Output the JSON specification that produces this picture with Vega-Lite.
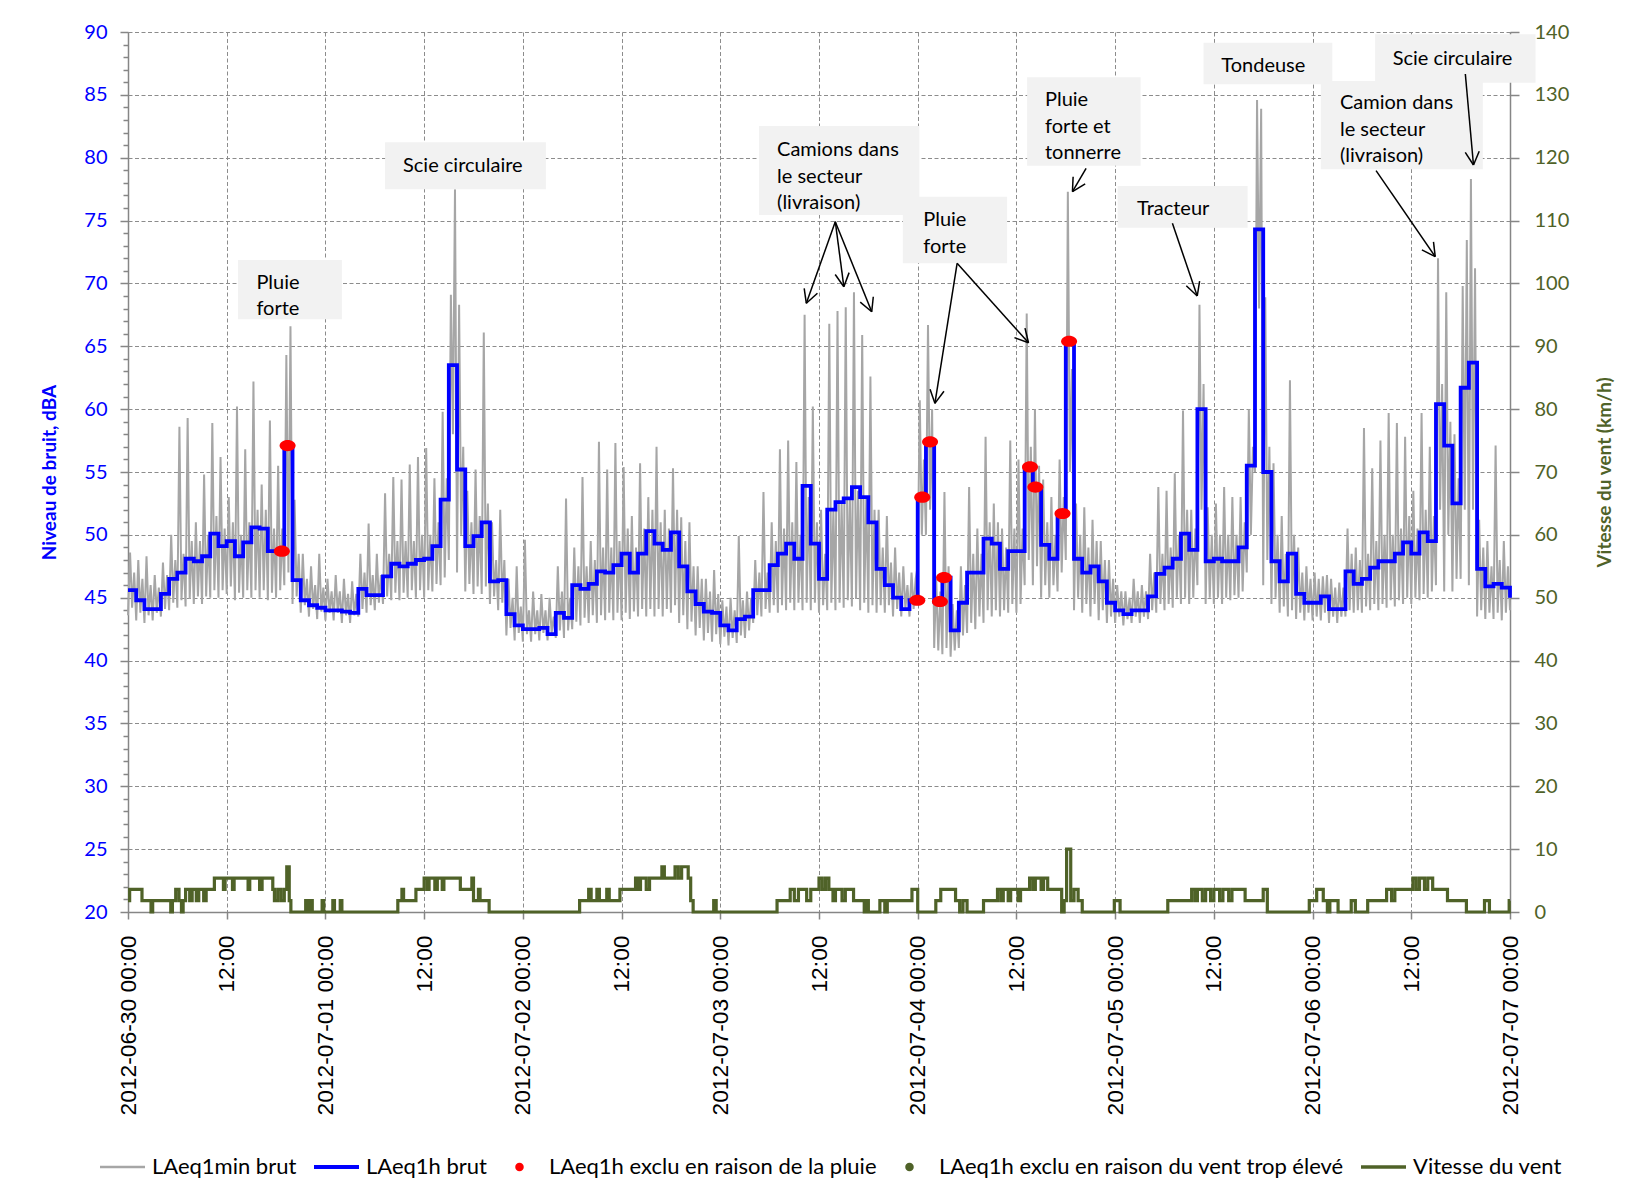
{
"$schema": "https://vega.github.io/schema/vega-lite/v6.json",
"width": 1382,
"height": 880,
"autosize": {"type": "none"},
"padding": {"left": 128, "top": 32, "right": 125, "bottom": 284},
"background": "white",
"config": {"font": "Lato", "view": {"stroke": null}},
"datasets": {
"minute": [
{"h":0,"v":43.6},{"h":0.25,"v":48.6},{"h":0.5,"v":44.2},{"h":0.75,"v":47.0},
{"h":1,"v":43.2},{"h":1.25,"v":48.0},{"h":1.5,"v":43.8},{"h":1.75,"v":46.5},
{"h":2,"v":43.0},{"h":2.25,"v":48.3},{"h":2.5,"v":43.6},{"h":2.75,"v":46.0},
{"h":3,"v":43.2},{"h":3.25,"v":46.8},{"h":3.5,"v":43.8},{"h":3.75,"v":45.8},
{"h":4,"v":43.5},{"h":4.25,"v":47.8},{"h":4.5,"v":44.1},{"h":4.75,"v":46.8},
{"h":5,"v":44.0},{"h":5.25,"v":50.0},{"h":5.5,"v":44.6},{"h":5.75,"v":48.0},
{"h":6,"v":44.2},{"h":6.25,"v":58.6},{"h":6.5,"v":44.8},{"h":6.75,"v":48.5},
{"h":7,"v":44.3},{"h":7.25,"v":59.3},{"h":7.5,"v":44.9},{"h":7.75,"v":49.5},
{"h":8,"v":44.5},{"h":8.25,"v":51.0},{"h":8.5,"v":45.1},{"h":8.75,"v":49.5},
{"h":9,"v":44.5},{"h":9.25,"v":54.8},{"h":9.5,"v":45.1},{"h":9.75,"v":50.0},
{"h":10,"v":45.0},{"h":10.25,"v":58.9},{"h":10.5,"v":45.6},{"h":10.75,"v":51.5},
{"h":11,"v":45.0},{"h":11.25,"v":56.2},{"h":11.5,"v":45.6},{"h":11.75,"v":50.5},
{"h":12,"v":45.3},{"h":12.25,"v":53.0},{"h":12.5,"v":45.9},{"h":12.75,"v":51.0},
{"h":13,"v":44.8},{"h":13.25,"v":60.2},{"h":13.5,"v":45.4},{"h":13.75,"v":50.0},
{"h":14,"v":45.0},{"h":14.25,"v":56.8},{"h":14.5,"v":45.6},{"h":14.75,"v":51.0},
{"h":15,"v":45.0},{"h":15.25,"v":62.2},{"h":15.5,"v":45.6},{"h":15.75,"v":52.0},
{"h":16,"v":45.0},{"h":16.25,"v":54.0},{"h":16.5,"v":45.6},{"h":16.75,"v":52.0},
{"h":17,"v":44.8},{"h":17.25,"v":59.1},{"h":17.5,"v":45.4},{"h":17.75,"v":50.5},
{"h":18,"v":45.0},{"h":18.25,"v":55.5},{"h":18.5,"v":45.6},{"h":18.75,"v":50.5},
{"h":19,"v":46.0},{"h":19.25,"v":64.3},{"h":19.5,"v":47.0},{"h":19.75,"v":66.6},
{"h":20,"v":44.5},{"h":20.25,"v":52.8},{"h":20.5,"v":45.1},{"h":20.75,"v":48.5},
{"h":21,"v":43.8},{"h":21.25,"v":48.5},{"h":21.5,"v":44.4},{"h":21.75,"v":46.5},
{"h":22,"v":43.5},{"h":22.25,"v":47.5},{"h":22.5,"v":44.1},{"h":22.75,"v":46.0},
{"h":23,"v":43.3},{"h":23.25,"v":48.5},{"h":23.5,"v":43.9},{"h":23.75,"v":45.8},
{"h":24,"v":43.2},{"h":24.25,"v":46.5},{"h":24.5,"v":43.8},{"h":24.75,"v":45.5},
{"h":25,"v":43.2},{"h":25.25,"v":46.8},{"h":25.5,"v":43.8},{"h":25.75,"v":45.5},
{"h":26,"v":43.0},{"h":26.25,"v":46.5},{"h":26.5,"v":43.6},{"h":26.75,"v":45.3},
{"h":27,"v":43.0},{"h":27.25,"v":46.3},{"h":27.5,"v":43.6},{"h":27.75,"v":45.3},
{"h":28,"v":43.5},{"h":28.25,"v":48.5},{"h":28.5,"v":44.1},{"h":28.75,"v":47.0},
{"h":29,"v":43.8},{"h":29.25,"v":50.9},{"h":29.5,"v":44.4},{"h":29.75,"v":46.8},
{"h":30,"v":44.0},{"h":30.25,"v":48.5},{"h":30.5,"v":44.6},{"h":30.75,"v":46.8},
{"h":31,"v":44.5},{"h":31.25,"v":53.3},{"h":31.5,"v":45.1},{"h":31.75,"v":48.5},
{"h":32,"v":44.8},{"h":32.25,"v":54.6},{"h":32.5,"v":45.4},{"h":32.75,"v":49.5},
{"h":33,"v":44.8},{"h":33.25,"v":54.4},{"h":33.5,"v":45.4},{"h":33.75,"v":49.5},
{"h":34,"v":45.0},{"h":34.25,"v":55.6},{"h":34.5,"v":45.6},{"h":34.75,"v":49.5},
{"h":35,"v":45.0},{"h":35.25,"v":56.2},{"h":35.5,"v":45.6},{"h":35.75,"v":50.0},
{"h":36,"v":45.0},{"h":36.25,"v":56.9},{"h":36.5,"v":45.6},{"h":36.75,"v":50.0},
{"h":37,"v":45.5},{"h":37.25,"v":54.5},{"h":37.5,"v":46.1},{"h":37.75,"v":51.0},
{"h":38,"v":46.0},{"h":38.25,"v":59.8},{"h":38.5,"v":46.6},{"h":38.75,"v":54.5},
{"h":39,"v":48.0},{"h":39.25,"v":69.1},{"h":39.5,"v":58.0},{"h":39.75,"v":77.5},
{"h":40,"v":47.0},{"h":40.25,"v":68.3},{"h":40.5,"v":50.0},{"h":40.75,"v":57.0},
{"h":41,"v":45.5},{"h":41.25,"v":53.5},{"h":41.5,"v":46.1},{"h":41.75,"v":51.0},
{"h":42,"v":45.3},{"h":42.25,"v":55.2},{"h":42.5,"v":45.9},{"h":42.75,"v":51.5},
{"h":43,"v":45.3},{"h":43.25,"v":66.1},{"h":43.5,"v":45.9},{"h":43.75,"v":52.5},
{"h":44,"v":44.5},{"h":44.25,"v":51.0},{"h":44.5,"v":45.1},{"h":44.75,"v":48.0},
{"h":45,"v":44.0},{"h":45.25,"v":52.0},{"h":45.5,"v":44.6},{"h":45.75,"v":48.0},
{"h":46,"v":42.0},{"h":46.25,"v":46.5},{"h":46.5,"v":42.6},{"h":46.75,"v":45.0},
{"h":47,"v":41.6},{"h":47.25,"v":47.5},{"h":47.5,"v":42.2},{"h":47.75,"v":44.3},
{"h":48,"v":41.5},{"h":48.25,"v":49.6},{"h":48.5,"v":42.1},{"h":48.75,"v":44.0},
{"h":49,"v":41.5},{"h":49.25,"v":45.5},{"h":49.5,"v":42.1},{"h":49.75,"v":44.0},
{"h":50,"v":41.6},{"h":50.25,"v":45.3},{"h":50.5,"v":42.2},{"h":50.75,"v":44.0},
{"h":51,"v":41.6},{"h":51.25,"v":45.0},{"h":51.5,"v":42.2},{"h":51.75,"v":43.5},
{"h":52,"v":41.8},{"h":52.25,"v":47.5},{"h":52.5,"v":42.4},{"h":52.75,"v":45.5},
{"h":53,"v":41.8},{"h":53.25,"v":52.9},{"h":53.5,"v":42.4},{"h":53.75,"v":45.0},
{"h":54,"v":42.5},{"h":54.25,"v":49.0},{"h":54.5,"v":43.1},{"h":54.75,"v":47.5},
{"h":55,"v":42.8},{"h":55.25,"v":54.6},{"h":55.5,"v":43.4},{"h":55.75,"v":47.5},
{"h":56,"v":43.0},{"h":56.25,"v":49.5},{"h":56.5,"v":43.6},{"h":56.75,"v":48.0},
{"h":57,"v":43.0},{"h":57.25,"v":57.4},{"h":57.5,"v":43.6},{"h":57.75,"v":49.0},
{"h":58,"v":43.2},{"h":58.25,"v":55.2},{"h":58.5,"v":43.8},{"h":58.75,"v":49.0},
{"h":59,"v":43.2},{"h":59.25,"v":57.3},{"h":59.5,"v":43.8},{"h":59.75,"v":49.5},
{"h":60,"v":43.2},{"h":60.25,"v":55.4},{"h":60.5,"v":43.8},{"h":60.75,"v":50.5},
{"h":61,"v":43.3},{"h":61.25,"v":51.5},{"h":61.5,"v":43.9},{"h":61.75,"v":49.0},
{"h":62,"v":43.5},{"h":62.25,"v":55.7},{"h":62.5,"v":44.1},{"h":62.75,"v":50.5},
{"h":63,"v":43.5},{"h":63.25,"v":53.0},{"h":63.5,"v":44.1},{"h":63.75,"v":52.0},
{"h":64,"v":43.5},{"h":64.25,"v":57.0},{"h":64.5,"v":44.1},{"h":64.75,"v":51.0},
{"h":65,"v":43.5},{"h":65.25,"v":52.0},{"h":65.5,"v":44.1},{"h":65.75,"v":50.5},
{"h":66,"v":43.8},{"h":66.25,"v":55.3},{"h":66.5,"v":44.4},{"h":66.75,"v":52.0},
{"h":67,"v":43.0},{"h":67.25,"v":51.4},{"h":67.5,"v":43.6},{"h":67.75,"v":49.5},
{"h":68,"v":42.5},{"h":68.25,"v":51.0},{"h":68.5,"v":43.1},{"h":68.75,"v":47.5},
{"h":69,"v":42.0},{"h":69.25,"v":47.5},{"h":69.5,"v":42.6},{"h":69.75,"v":46.5},
{"h":70,"v":41.6},{"h":70.25,"v":46.5},{"h":70.5,"v":42.2},{"h":70.75,"v":45.5},
{"h":71,"v":41.5},{"h":71.25,"v":47.2},{"h":71.5,"v":42.1},{"h":71.75,"v":45.3},
{"h":72,"v":41.3},{"h":72.25,"v":44.8},{"h":72.5,"v":41.9},{"h":72.75,"v":44.3},
{"h":73,"v":41.2},{"h":73.25,"v":45.0},{"h":73.5,"v":41.8},{"h":73.75,"v":44.0},
{"h":74,"v":41.4},{"h":74.25,"v":49.9},{"h":74.5,"v":42.0},{"h":74.75,"v":44.8},
{"h":75,"v":41.8},{"h":75.25,"v":45.5},{"h":75.5,"v":42.4},{"h":75.75,"v":45.0},
{"h":76,"v":43.0},{"h":76.25,"v":48.0},{"h":76.5,"v":43.6},{"h":76.75,"v":47.0},
{"h":77,"v":43.5},{"h":77.25,"v":53.4},{"h":77.5,"v":44.1},{"h":77.75,"v":47.0},
{"h":78,"v":43.8},{"h":78.25,"v":51.0},{"h":78.5,"v":44.4},{"h":78.75,"v":49.5},
{"h":79,"v":43.8},{"h":79.25,"v":56.8},{"h":79.5,"v":44.4},{"h":79.75,"v":50.5},
{"h":80,"v":44.0},{"h":80.25,"v":57.5},{"h":80.5,"v":44.6},{"h":80.75,"v":51.0},
{"h":81,"v":44.0},{"h":81.25,"v":55.8},{"h":81.5,"v":44.6},{"h":81.75,"v":50.0},
{"h":82,"v":44.0},{"h":82.25,"v":67.5},{"h":82.5,"v":44.6},{"h":82.75,"v":53.0},
{"h":83,"v":44.0},{"h":83.25,"v":60.2},{"h":83.5,"v":44.6},{"h":83.75,"v":51.0},
{"h":84,"v":43.8},{"h":84.25,"v":52.0},{"h":84.5,"v":44.4},{"h":84.75,"v":48.5},
{"h":85,"v":44.0},{"h":85.25,"v":66.8},{"h":85.5,"v":44.6},{"h":85.75,"v":52.0},
{"h":86,"v":44.0},{"h":86.25,"v":67.8},{"h":86.5,"v":44.6},{"h":86.75,"v":52.5},
{"h":87,"v":44.2},{"h":87.25,"v":68.1},{"h":87.5,"v":44.8},{"h":87.75,"v":53.0},
{"h":88,"v":44.3},{"h":88.25,"v":69.3},{"h":88.5,"v":44.9},{"h":88.75,"v":53.5},
{"h":89,"v":44.0},{"h":89.25,"v":65.9},{"h":89.5,"v":44.6},{"h":89.75,"v":53.0},
{"h":90,"v":43.8},{"h":90.25,"v":62.6},{"h":90.5,"v":44.4},{"h":90.75,"v":52.0},
{"h":91,"v":43.8},{"h":91.25,"v":52.0},{"h":91.5,"v":44.4},{"h":91.75,"v":49.0},
{"h":92,"v":43.8},{"h":92.25,"v":51.5},{"h":92.5,"v":44.4},{"h":92.75,"v":47.8},
{"h":93,"v":43.5},{"h":93.25,"v":49.0},{"h":93.5,"v":44.1},{"h":93.75,"v":47.0},
{"h":94,"v":43.5},{"h":94.25,"v":47.5},{"h":94.5,"v":44.1},{"h":94.75,"v":46.0},
{"h":95,"v":43.5},{"h":95.25,"v":47.0},{"h":95.5,"v":44.1},{"h":95.75,"v":46.5},
{"h":96,"v":47.5},{"h":96.25,"v":60.7},{"h":96.5,"v":50.0},{"h":96.75,"v":56.0},
{"h":97,"v":50.0},{"h":97.25,"v":66.7},{"h":97.5,"v":52.0},{"h":97.75,"v":60.0},
{"h":98,"v":41.0},{"h":98.25,"v":46.5},{"h":98.5,"v":40.8},{"h":98.75,"v":45.5},
{"h":99,"v":40.5},{"h":99.25,"v":53.4},{"h":99.5,"v":41.0},{"h":99.75,"v":47.5},
{"h":100,"v":40.3},{"h":100.25,"v":44.5},{"h":100.5,"v":40.8},{"h":100.75,"v":44.0},
{"h":101,"v":41.0},{"h":101.25,"v":47.5},{"h":101.5,"v":42.0},{"h":101.75,"v":46.0},
{"h":102,"v":42.2},{"h":102.25,"v":53.8},{"h":102.5,"v":43.0},{"h":102.75,"v":48.5},
{"h":103,"v":42.5},{"h":103.25,"v":50.5},{"h":103.5,"v":43.5},{"h":103.75,"v":48.5},
{"h":104,"v":43.0},{"h":104.25,"v":57.8},{"h":104.5,"v":44.0},{"h":104.75,"v":51.0},
{"h":105,"v":43.5},{"h":105.25,"v":52.5},{"h":105.5,"v":44.0},{"h":105.75,"v":51.0},
{"h":106,"v":43.5},{"h":106.25,"v":50.5},{"h":106.5,"v":44.0},{"h":106.75,"v":49.0},
{"h":107,"v":43.8},{"h":107.25,"v":57.5},{"h":107.5,"v":44.5},{"h":107.75,"v":50.5},
{"h":108,"v":43.8},{"h":108.25,"v":56.0},{"h":108.5,"v":44.5},{"h":108.75,"v":50.5},
{"h":109,"v":46.0},{"h":109.25,"v":67.6},{"h":109.5,"v":48.0},{"h":109.75,"v":57.0},
{"h":110,"v":46.0},{"h":110.25,"v":60.0},{"h":110.5,"v":47.5},{"h":110.75,"v":55.5},
{"h":111,"v":45.0},{"h":111.25,"v":54.4},{"h":111.5,"v":46.0},{"h":111.75,"v":51.0},
{"h":112,"v":45.0},{"h":112.25,"v":53.0},{"h":112.5,"v":46.0},{"h":112.75,"v":50.0},
{"h":113,"v":45.5},{"h":113.25,"v":56.0},{"h":113.5,"v":47.0},{"h":113.75,"v":53.0},
{"h":114,"v":48.0},{"h":114.25,"v":77.3},{"h":114.5,"v":55.0},{"h":114.75,"v":63.2},
{"h":115,"v":44.0},{"h":115.25,"v":52.5},{"h":115.5,"v":45.0},{"h":115.75,"v":50.0},
{"h":116,"v":43.8},{"h":116.25,"v":52.2},{"h":116.5,"v":44.5},{"h":116.75,"v":49.0},
{"h":117,"v":43.5},{"h":117.25,"v":51.2},{"h":117.5,"v":44.5},{"h":117.75,"v":49.5},
{"h":118,"v":43.2},{"h":118.25,"v":49.5},{"h":118.5,"v":44.0},{"h":118.75,"v":48.0},
{"h":119,"v":43.0},{"h":119.25,"v":48.0},{"h":119.5,"v":43.5},{"h":119.75,"v":46.5},
{"h":120,"v":43.0},{"h":120.25,"v":46.0},{"h":120.5,"v":43.5},{"h":120.75,"v":45.5},
{"h":121,"v":42.8},{"h":121.25,"v":45.5},{"h":121.5,"v":43.3},{"h":121.75,"v":45.0},
{"h":122,"v":43.0},{"h":122.25,"v":46.5},{"h":122.5,"v":43.5},{"h":122.75,"v":45.5},
{"h":123,"v":43.0},{"h":123.25,"v":46.0},{"h":123.5,"v":43.5},{"h":123.75,"v":45.5},
{"h":124,"v":43.3},{"h":124.25,"v":48.5},{"h":124.5,"v":44.0},{"h":124.75,"v":47.0},
{"h":125,"v":43.8},{"h":125.25,"v":53.8},{"h":125.5,"v":44.5},{"h":125.75,"v":48.5},
{"h":126,"v":44.0},{"h":126.25,"v":53.5},{"h":126.5,"v":44.5},{"h":126.75,"v":49.0},
{"h":127,"v":44.2},{"h":127.25,"v":54.9},{"h":127.5,"v":45.0},{"h":127.75,"v":50.0},
{"h":128,"v":44.5},{"h":128.25,"v":59.9},{"h":128.5,"v":45.0},{"h":128.75,"v":52.0},
{"h":129,"v":44.5},{"h":129.25,"v":52.0},{"h":129.5,"v":45.0},{"h":129.75,"v":50.5},
{"h":130,"v":46.0},{"h":130.25,"v":68.3},{"h":130.5,"v":52.0},{"h":130.75,"v":62.0},
{"h":131,"v":44.5},{"h":131.25,"v":52.2},{"h":131.5,"v":45.0},{"h":131.75,"v":50.0},
{"h":132,"v":44.5},{"h":132.25,"v":52.5},{"h":132.5,"v":45.0},{"h":132.75,"v":50.0},
{"h":133,"v":44.5},{"h":133.25,"v":53.8},{"h":133.5,"v":45.0},{"h":133.75,"v":50.0},
{"h":134,"v":44.8},{"h":134.25,"v":53.0},{"h":134.5,"v":45.2},{"h":134.75,"v":50.0},
{"h":135,"v":45.0},{"h":135.25,"v":53.0},{"h":135.5,"v":45.5},{"h":135.75,"v":51.0},
{"h":136,"v":47.0},{"h":136.25,"v":60.0},{"h":136.5,"v":50.0},{"h":136.75,"v":57.0},
{"h":137,"v":55.0},{"h":137.25,"v":84.6},{"h":137.5,"v":68.0},{"h":137.75,"v":83.9},
{"h":138,"v":46.0},{"h":138.25,"v":68.9},{"h":138.5,"v":48.0},{"h":138.75,"v":57.0},
{"h":139,"v":44.5},{"h":139.25,"v":55.7},{"h":139.5,"v":45.0},{"h":139.75,"v":50.0},
{"h":140,"v":43.8},{"h":140.25,"v":51.5},{"h":140.5,"v":44.3},{"h":140.75,"v":48.5},
{"h":141,"v":43.5},{"h":141.25,"v":62.3},{"h":141.5,"v":44.0},{"h":141.75,"v":50.0},
{"h":142,"v":43.3},{"h":142.25,"v":49.0},{"h":142.5,"v":43.8},{"h":142.75,"v":47.0},
{"h":143,"v":43.2},{"h":143.25,"v":47.5},{"h":143.5,"v":43.8},{"h":143.75,"v":46.5},
{"h":144,"v":43.2},{"h":144.25,"v":47.0},{"h":144.5,"v":43.5},{"h":144.75,"v":46.5},
{"h":145,"v":43.2},{"h":145.25,"v":46.7},{"h":145.5,"v":43.8},{"h":145.75,"v":46.8},
{"h":146,"v":43.0},{"h":146.25,"v":46.5},{"h":146.5,"v":43.5},{"h":146.75,"v":45.8},
{"h":147,"v":43.0},{"h":147.25,"v":46.2},{"h":147.5,"v":43.5},{"h":147.75,"v":45.8},
{"h":148,"v":43.5},{"h":148.25,"v":50.5},{"h":148.5,"v":44.0},{"h":148.75,"v":48.5},
{"h":149,"v":43.8},{"h":149.25,"v":49.0},{"h":149.5,"v":44.0},{"h":149.75,"v":48.0},
{"h":150,"v":43.8},{"h":150.25,"v":58.5},{"h":150.5,"v":44.3},{"h":150.75,"v":48.5},
{"h":151,"v":44.0},{"h":151.25,"v":55.3},{"h":151.5,"v":44.5},{"h":151.75,"v":49.5},
{"h":152,"v":44.0},{"h":152.25,"v":57.5},{"h":152.5,"v":44.5},{"h":152.75,"v":50.0},
{"h":153,"v":44.2},{"h":153.25,"v":59.7},{"h":153.5,"v":44.8},{"h":153.75,"v":50.0},
{"h":154,"v":44.3},{"h":154.25,"v":58.9},{"h":154.5,"v":44.8},{"h":154.75,"v":50.5},
{"h":155,"v":44.5},{"h":155.25,"v":57.8},{"h":155.5,"v":45.0},{"h":155.75,"v":51.5},
{"h":156,"v":44.5},{"h":156.25,"v":53.5},{"h":156.5,"v":45.0},{"h":156.75,"v":50.5},
{"h":157,"v":44.8},{"h":157.25,"v":59.7},{"h":157.5,"v":45.3},{"h":157.75,"v":52.0},
{"h":158,"v":45.0},{"h":158.25,"v":57.0},{"h":158.5,"v":45.5},{"h":158.75,"v":51.5},
{"h":159,"v":46.0},{"h":159.25,"v":72.0},{"h":159.5,"v":52.0},{"h":159.75,"v":62.0},
{"h":160,"v":45.5},{"h":160.25,"v":69.3},{"h":160.5,"v":50.0},{"h":160.75,"v":59.0},
{"h":161,"v":45.5},{"h":161.25,"v":58.0},{"h":161.5,"v":46.5},{"h":161.75,"v":54.5},
{"h":162,"v":46.5},{"h":162.25,"v":69.8},{"h":162.5,"v":52.0},{"h":162.75,"v":73.45},
{"h":163,"v":46.0},{"h":163.25,"v":78.3},{"h":163.5,"v":52.0},{"h":163.75,"v":71.2},
{"h":164,"v":43.5},{"h":164.25,"v":51.2},{"h":164.5,"v":44.0},{"h":164.75,"v":49.0},
{"h":165,"v":43.3},{"h":165.25,"v":49.5},{"h":165.5,"v":43.8},{"h":165.75,"v":47.5},
{"h":166,"v":43.3},{"h":166.25,"v":57.1},{"h":166.5,"v":43.8},{"h":166.75,"v":48.0},
{"h":167,"v":43.2},{"h":167.25,"v":49.5},{"h":167.5,"v":43.8},{"h":167.75,"v":47.5},
{"h":168,"v":44.0}
],
"heure": [
{"h":0,"v":45.6},{"h":1,"v":44.8},{"h":2,"v":44.1},{"h":3,"v":44.1},{"h":4,"v":45.3},{"h":5,"v":46.5},{"h":6,"v":47.0},{"h":7,"v":48.1},{"h":8,"v":47.9},{"h":9,"v":48.3},{"h":10,"v":50.1},{"h":11,"v":49.1},{"h":12,"v":49.5},{"h":13,"v":48.3},{"h":14,"v":49.4},{"h":15,"v":50.6},{"h":16,"v":50.5},{"h":17,"v":48.7},{"h":18,"v":48.7},{"h":19,"v":57.1},{"h":20,"v":46.4},{"h":21,"v":44.8},{"h":22,"v":44.4},{"h":23,"v":44.2},
{"h":24,"v":44.0},{"h":25,"v":44.0},{"h":26,"v":43.9},{"h":27,"v":43.8},{"h":28,"v":45.7},{"h":29,"v":45.2},{"h":30,"v":45.2},{"h":31,"v":46.7},{"h":32,"v":47.7},{"h":33,"v":47.5},{"h":34,"v":47.7},{"h":35,"v":48.0},{"h":36,"v":48.1},{"h":37,"v":49.1},{"h":38,"v":52.8},{"h":39,"v":63.5},{"h":40,"v":55.2},{"h":41,"v":49.1},{"h":42,"v":49.9},{"h":43,"v":51.0},{"h":44,"v":46.3},{"h":45,"v":46.4},{"h":46,"v":43.7},{"h":47,"v":42.8},
{"h":48,"v":42.5},{"h":49,"v":42.5},{"h":50,"v":42.6},{"h":51,"v":42.1},{"h":52,"v":43.8},{"h":53,"v":43.4},{"h":54,"v":46.0},{"h":55,"v":45.7},{"h":56,"v":46.1},{"h":57,"v":47.1},{"h":58,"v":47.0},{"h":59,"v":47.6},{"h":60,"v":48.5},{"h":61,"v":47.0},{"h":62,"v":48.5},{"h":63,"v":50.3},{"h":64,"v":49.3},{"h":65,"v":48.8},{"h":66,"v":50.2},{"h":67,"v":47.5},{"h":68,"v":45.5},{"h":69,"v":44.5},{"h":70,"v":43.9},{"h":71,"v":43.8},
{"h":72,"v":42.8},{"h":73,"v":42.4},{"h":74,"v":43.3},{"h":75,"v":43.5},{"h":76,"v":45.6},{"h":77,"v":45.6},{"h":78,"v":47.6},{"h":79,"v":48.5},{"h":80,"v":49.3},{"h":81,"v":48.1},{"h":82,"v":53.9},{"h":83,"v":49.3},{"h":84,"v":46.5},{"h":85,"v":52.0},{"h":86,"v":52.6},{"h":87,"v":52.9},{"h":88,"v":53.8},{"h":89,"v":53.0},{"h":90,"v":51.0},{"h":91,"v":47.3},{"h":92,"v":46.0},{"h":93,"v":45.0},{"h":94,"v":44.1},{"h":95,"v":44.8},
{"h":96,"v":53.0},{"h":97,"v":57.4},{"h":98,"v":44.7},{"h":99,"v":46.6},{"h":100,"v":42.4},{"h":101,"v":44.6},{"h":102,"v":47.0},{"h":103,"v":47.0},{"h":104,"v":49.7},{"h":105,"v":49.3},{"h":106,"v":47.3},{"h":107,"v":48.7},{"h":108,"v":48.7},{"h":109,"v":55.4},{"h":110,"v":53.8},{"h":111,"v":49.2},{"h":112,"v":48.1},{"h":113,"v":51.7},{"h":114,"v":65.4},{"h":115,"v":48.1},{"h":116,"v":47.0},{"h":117,"v":47.5},{"h":118,"v":46.3},{"h":119,"v":44.6},
{"h":120,"v":44.0},{"h":121,"v":43.7},{"h":122,"v":44.0},{"h":123,"v":44.0},{"h":124,"v":45.1},{"h":125,"v":46.9},{"h":126,"v":47.4},{"h":127,"v":48.1},{"h":128,"v":50.1},{"h":129,"v":48.8},{"h":130,"v":60.0},{"h":131,"v":47.9},{"h":132,"v":48.1},{"h":133,"v":47.9},{"h":134,"v":47.9},{"h":135,"v":49.0},{"h":136,"v":55.5},{"h":137,"v":74.3},{"h":138,"v":55.0},{"h":139,"v":47.9},{"h":140,"v":46.3},{"h":141,"v":48.5},{"h":142,"v":45.3},{"h":143,"v":44.6},
{"h":144,"v":44.6},{"h":145,"v":45.1},{"h":146,"v":44.1},{"h":147,"v":44.1},{"h":148,"v":47.1},{"h":149,"v":46.1},{"h":150,"v":46.5},{"h":151,"v":47.4},{"h":152,"v":47.9},{"h":153,"v":47.9},{"h":154,"v":48.5},{"h":155,"v":49.4},{"h":156,"v":48.5},{"h":157,"v":50.2},{"h":158,"v":49.5},{"h":159,"v":60.4},{"h":160,"v":57.1},{"h":161,"v":52.5},{"h":162,"v":61.7},{"h":163,"v":63.7},{"h":164,"v":47.3},{"h":165,"v":45.9},{"h":166,"v":46.1},{"h":167,"v":45.8},{"h":168,"v":45.0}
],
"pluie": [
{"h":18.7,"v":48.7},{"h":19.4,"v":57.1},{"h":95.95,"v":44.8},{"h":96.55,"v":53.0},{"h":97.5,"v":57.4},{"h":98.7,"v":44.7},{"h":99.2,"v":46.6},{"h":109.65,"v":55.4},{"h":110.3,"v":53.8},{"h":113.6,"v":51.7},{"h":114.4,"v":65.4}
],
"vent": [
{"h":0,"w":1.8},{"h":0.2,"w":3.6},{"h":1.7,"w":1.8},{"h":2.8,"w":0},{"h":3.0,"w":1.8},{"h":5.2,"w":0},{"h":5.4,"w":1.8},{"h":5.8,"w":3.6},{"h":6.2,"w":1.8},{"h":6.5,"w":0},{"h":6.7,"w":1.8},{"h":7.0,"w":3.6},{"h":7.5,"w":1.8},{"h":7.8,"w":3.6},{"h":8.3,"w":1.8},{"h":8.6,"w":3.6},{"h":9.2,"w":1.8},{"h":9.5,"w":3.6},{"h":10.5,"w":5.4},{"h":11.6,"w":3.6},{"h":11.8,"w":5.4},{"h":12.7,"w":3.6},{"h":12.9,"w":5.4},{"h":14.6,"w":3.6},{"h":14.8,"w":5.4},{"h":16.0,"w":3.6},{"h":16.3,"w":5.4},{"h":17.6,"w":3.6},{"h":17.8,"w":1.8},{"h":18.2,"w":3.6},{"h":18.6,"w":1.8},{"h":19.0,"w":3.6},{"h":19.3,"w":7.2},{"h":19.6,"w":1.8},{"h":19.8,"w":0},
{"h":21.6,"w":1.8},{"h":21.9,"w":0},{"h":22.1,"w":1.8},{"h":22.4,"w":0},{"h":23.6,"w":1.8},{"h":23.8,"w":0},{"h":24.9,"w":1.8},{"h":25.1,"w":0},{"h":25.8,"w":1.8},{"h":26.0,"w":0},{"h":32.8,"w":1.8},{"h":33.3,"w":3.6},{"h":33.5,"w":1.8},{"h":35.0,"w":3.6},{"h":36.0,"w":5.4},{"h":36.4,"w":3.6},{"h":36.6,"w":5.4},{"h":37.3,"w":3.6},{"h":37.6,"w":5.4},{"h":38.2,"w":3.6},{"h":38.4,"w":5.4},{"h":40.4,"w":3.6},{"h":41.8,"w":5.4},{"h":42.0,"w":1.8},{"h":42.6,"w":3.6},{"h":42.8,"w":1.8},{"h":43.9,"w":0},
{"h":54.9,"w":1.8},{"h":56.0,"w":3.6},{"h":56.3,"w":1.8},{"h":57.0,"w":3.6},{"h":57.3,"w":1.8},{"h":58.2,"w":3.6},{"h":58.5,"w":1.8},{"h":59.8,"w":3.6},{"h":61.7,"w":5.4},{"h":62.0,"w":3.6},{"h":62.3,"w":5.4},{"h":63.0,"w":3.6},{"h":63.4,"w":5.4},{"h":64.9,"w":7.2},{"h":65.2,"w":5.4},{"h":66.5,"w":7.2},{"h":66.9,"w":5.4},{"h":67.3,"w":7.2},{"h":68.1,"w":5.4},{"h":68.4,"w":1.8},{"h":68.7,"w":0},{"h":71.2,"w":1.8},{"h":71.5,"w":0},
{"h":78.9,"w":1.8},{"h":80.5,"w":3.6},{"h":81.0,"w":1.8},{"h":81.5,"w":3.6},{"h":82.5,"w":1.8},{"h":83.0,"w":3.6},{"h":84.0,"w":5.4},{"h":84.4,"w":3.6},{"h":84.8,"w":5.4},{"h":85.2,"w":3.6},{"h":85.7,"w":1.8},{"h":86.0,"w":3.6},{"h":86.8,"w":1.8},{"h":87.2,"w":3.6},{"h":88.2,"w":1.8},{"h":89.5,"w":0},{"h":89.7,"w":1.8},{"h":90.0,"w":0},{"h":91.4,"w":1.8},{"h":92.0,"w":0},{"h":92.3,"w":1.8},{"h":95.3,"w":3.6},{"h":96.0,"w":0},
{"h":98.2,"w":1.8},{"h":98.8,"w":3.6},{"h":100.6,"w":1.8},{"h":101.1,"w":0},{"h":101.5,"w":1.8},{"h":102.0,"w":0},{"h":104.0,"w":1.8},{"h":105.7,"w":3.6},{"h":106.1,"w":1.8},{"h":106.4,"w":3.6},{"h":107.0,"w":1.8},{"h":107.3,"w":3.6},{"h":108.2,"w":1.8},{"h":108.5,"w":3.6},{"h":109.6,"w":5.4},{"h":110.0,"w":3.6},{"h":110.3,"w":5.4},{"h":111.0,"w":3.6},{"h":111.3,"w":5.4},{"h":111.8,"w":3.6},{"h":113.5,"w":0},{"h":113.8,"w":1.8},{"h":114.1,"w":10},{"h":114.6,"w":1.8},{"h":115.0,"w":3.6},{"h":115.5,"w":1.8},{"h":116.0,"w":0},
{"h":119.9,"w":1.8},{"h":120.6,"w":0},{"h":126.4,"w":1.8},{"h":129.3,"w":3.6},{"h":129.7,"w":1.8},{"h":130.0,"w":3.6},{"h":130.6,"w":1.8},{"h":131.0,"w":3.6},{"h":131.6,"w":1.8},{"h":132.0,"w":3.6},{"h":132.7,"w":1.8},{"h":133.1,"w":3.6},{"h":133.8,"w":1.8},{"h":134.2,"w":3.6},{"h":135.8,"w":1.8},{"h":138.0,"w":3.6},{"h":138.5,"w":0},
{"h":143.6,"w":1.8},{"h":144.5,"w":3.6},{"h":145.3,"w":1.8},{"h":145.8,"w":0},{"h":146.1,"w":1.8},{"h":147.1,"w":0},{"h":148.7,"w":1.8},{"h":149.2,"w":0},{"h":150.7,"w":1.8},{"h":153.0,"w":3.6},{"h":153.6,"w":1.8},{"h":154.0,"w":3.6},{"h":156.2,"w":5.4},{"h":156.6,"w":3.6},{"h":157.0,"w":5.4},{"h":157.6,"w":3.6},{"h":158.0,"w":5.4},{"h":158.6,"w":3.6},{"h":160.4,"w":1.8},{"h":162.7,"w":0},{"h":164.9,"w":1.8},{"h":165.5,"w":0},{"h":167.9,"w":1.8},{"h":168,"w":1.8}
],
"boites": [
{"h":13.37,"h2":26.0,"y":71.86,"y2":67.15},
{"h":31.25,"h2":50.8,"y":81.23,"y2":77.49},
{"h":76.7,"h2":96.2,"y":82.52,"y2":75.44},
{"h":94.19,"h2":106.87,"y":76.9,"y2":71.6},
{"h":109.3,"h2":123.1,"y":86.4,"y2":79.36},
{"h":120.3,"h2":136.1,"y":77.75,"y2":74.43},
{"h":130.75,"h2":146.4,"y":89.15,"y2":85.84},
{"h":145.0,"h2":164.7,"y":86.1,"y2":79.08},
{"h":151.6,"h2":171.1,"y":89.82,"y2":85.97}
],
"notes": [
{"h":15.61,"y":70.06,"txt":"Pluie\nforte"},
{"h":33.43,"y":79.34,"txt":"Scie circulaire"},
{"h":78.9,"y":80.61,"txt":"Camions dans\nle secteur\n(livraison)"},
{"h":96.67,"y":75.04,"txt":"Pluie\nforte"},
{"h":111.47,"y":84.59,"txt":"Pluie\nforte et\ntonnerre"},
{"h":122.66,"y":75.9,"txt":"Tracteur"},
{"h":132.91,"y":87.3,"txt":"Tondeuse"},
{"h":147.33,"y":84.33,"txt":"Camion dans\nle secteur\n(livraison)"},
{"h":153.74,"y":87.83,"txt":"Scie circulaire"}
],
"fleches": [
{"h":85.98,"y":74.91,"h2":82.46,"y2":68.42},{"h":82.46,"y":68.42,"h2":83.81,"y2":69.22},{"h":82.46,"y":68.42,"h2":82.2,"y2":69.6},
{"h":85.98,"y":74.91,"h2":87.02,"y2":69.74},{"h":87.02,"y":69.74,"h2":87.66,"y2":70.86},{"h":87.02,"y":69.74,"h2":85.97,"y2":70.71},
{"h":85.98,"y":74.91,"h2":90.41,"y2":67.75},{"h":90.41,"y":67.75,"h2":90.6,"y2":68.94},{"h":90.41,"y":67.75,"h2":89.01,"y2":68.51},
{"h":100.79,"y":71.6,"h2":98.09,"y2":60.46},{"h":98.09,"y":60.46,"h2":99.19,"y2":61.42},{"h":98.09,"y":60.46,"h2":97.5,"y2":61.59},
{"h":100.79,"y":71.6,"h2":109.47,"y2":65.28},{"h":109.47,"y":65.28,"h2":109.04,"y2":66.44},{"h":109.47,"y":65.28,"h2":107.76,"y2":65.69},
{"h":116.47,"y":79.16,"h2":114.81,"y2":77.3},{"h":114.81,"y":77.3,"h2":116.36,"y2":77.92},{"h":114.81,"y":77.3,"h2":114.89,"y2":78.49},
{"h":126.96,"y":74.78,"h2":129.98,"y2":69.0},{"h":129.98,"y":69.0,"h2":130.27,"y2":70.18},{"h":129.98,"y":69.0,"h2":128.65,"y2":69.82},
{"h":151.72,"y":78.97,"h2":158.91,"y2":72.13},{"h":158.91,"y":72.13,"h2":158.7,"y2":73.31},{"h":158.91,"y":72.13,"h2":157.29,"y2":72.67},
{"h":162.57,"y":86.66,"h2":163.56,"y2":79.42},{"h":163.56,"y":79.42,"h2":164.26,"y2":80.52},{"h":163.56,"y":79.42,"h2":162.56,"y2":80.42}
]
},
"layer": [
{
"layer": [
{
"data": {"name": "minute"},
"mark": {"type": "line", "strokeWidth": 2.0},
"encoding": {
"x": {"field": "h", "type": "quantitative", "scale": {"domain": [0, 168], "nice": false, "zero": false},
"axis": {"values": [0,12,24,36,48,60,72,84,96,108,120,132,144,156,168],
"labelExpr": "datum.value % 24 === 0 ? timeFormat(datetime(2012, 5, 30 + datum.value / 24), '%Y-%m-%d  %H:%M') : '12:00'",
"labelAngle": 270, "labelFont": "Liberation Sans", "labelFontSize": 22.8, "labelColor": "#000000", "labelPadding": 16, "labelLimit": 0,
"labelOverlap": false, "labelBound": false, "labelFlush": false,
"tickSize": 7, "tickColor": "#868686", "tickWidth": 1.5, "domainColor": "#868686", "domainWidth": 1.5,
"grid": true, "gridColor": "#8C8C8C", "gridDash": [4, 2.5], "gridWidth": 1, "title": null}},
"y": {"field": "v", "type": "quantitative", "scale": {"domain": [20, 90], "nice": false, "zero": false},
"axis": {"values": [20,25,30,35,40,45,50,55,60,65,70,75,80,85,90],
"labelColor": "#0000FF", "labelFontSize": 20, "labelPadding": 13, "labelOverlap": false,
"tickSize": 8, "tickColor": "#868686", "tickWidth": 1.5, "domainColor": "#868686", "domainWidth": 1.5,
"grid": true, "gridColor": "#8C8C8C", "gridDash": [4, 2.5], "gridWidth": 1,
"title": "Niveau de bruit, dBA", "titleColor": "#0000FF", "titleFontSize": 19, "titleFontWeight": "bold", "titlePadding": 24.5}},
"color": {"datum": "LAeq1min brut", "type": "nominal",
"scale": {"domain": ["LAeq1min brut", "LAeq1h brut", "LAeq1h exclu en raison de la pluie", "LAeq1h exclu en raison du vent trop élevé", "Vitesse du vent"],
"range": ["#A6A6A6", "#0000FF", "#FF0000", "#4F6228", "#4F6228"]},
"legend": {"orient": "none", "legendX": -16.5, "legendY": 1124, "direction": "horizontal", "title": null,
"labelFontSize": 22, "labelColor": "#000000", "labelLimit": 0, "symbolSize": 2025, "symbolStrokeWidth": 3,
"columnPadding": 9, "labelOffset": 18.5,
"encode": {"symbols": {"update": {
"shape": {"signal": "datum.value === 'LAeq1h exclu en raison de la pluie' || datum.value === 'LAeq1h exclu en raison du vent trop élevé' ? 'M-1,0L-0.999,0M0.19,0A0.19,0.19,0,1,0,-0.19,0A0.19,0.19,0,1,0,0.19,0Z' : 'stroke'"},
"size": {"value": 2025},
"strokeWidth": {"signal": "datum.value === 'LAeq1min brut' ? 2.5 : datum.value === 'LAeq1h brut' ? 4 : datum.value === 'Vitesse du vent' ? 3.5 : 0"},
"stroke": {"signal": "datum.value === 'LAeq1min brut' ? '#BFBFBF' : datum.value === 'LAeq1h brut' ? '#0000FF' : datum.value === 'Vitesse du vent' ? '#4F6228' : 'transparent'"},
"fill": {"signal": "datum.value === 'LAeq1h exclu en raison de la pluie' ? '#FF0000' : datum.value === 'LAeq1h exclu en raison du vent trop élevé' ? '#4F6228' : 'transparent'"},
"opacity": {"value": 1}
}}}}}
}
},
{
"data": {"name": "heure"},
"mark": {"type": "line", "interpolate": "step-after", "strokeWidth": 3.8},
"encoding": {
"x": {"field": "h", "type": "quantitative", "scale": {"domain": [0, 168], "nice": false, "zero": false}},
"y": {"field": "v", "type": "quantitative", "scale": {"domain": [20, 90], "nice": false, "zero": false}},
"color": {"datum": "LAeq1h brut", "type": "nominal"}
}
},
{
"data": {"name": "pluie"},
"mark": {"type": "point", "filled": true, "opacity": 1, "size": 256, "shape": "M-1,0A1,0.7,0,1,0,1,0A1,0.7,0,1,0,-1,0Z"},
"encoding": {
"x": {"field": "h", "type": "quantitative", "scale": {"domain": [0, 168], "nice": false, "zero": false}},
"y": {"field": "v", "type": "quantitative", "scale": {"domain": [20, 90], "nice": false, "zero": false}},
"color": {"datum": "LAeq1h exclu en raison de la pluie", "type": "nominal"}
}
},
{
"data": {"name": "boites"},
"mark": {"type": "rect", "color": "#F2F2F2"},
"encoding": {
"x": {"field": "h", "type": "quantitative", "scale": {"domain": [0, 168], "nice": false, "zero": false}},
"x2": {"field": "h2"},
"y": {"field": "y", "type": "quantitative", "scale": {"domain": [20, 90], "nice": false, "zero": false}},
"y2": {"field": "y2"}
}
},
{
"data": {"name": "notes"},
"mark": {"type": "text", "align": "left", "baseline": "middle", "font": "Lato", "fontSize": 20, "lineHeight": 26.5, "lineBreak": "\n", "color": "#000000"},
"encoding": {
"x": {"field": "h", "type": "quantitative", "scale": {"domain": [0, 168], "nice": false, "zero": false}},
"y": {"field": "y", "type": "quantitative", "scale": {"domain": [20, 90], "nice": false, "zero": false}},
"text": {"field": "txt"}
}
},
{
"data": {"name": "fleches"},
"mark": {"type": "rule", "color": "#000000", "strokeWidth": 1.5},
"encoding": {
"x": {"field": "h", "type": "quantitative", "scale": {"domain": [0, 168], "nice": false, "zero": false}},
"x2": {"field": "h2"},
"y": {"field": "y", "type": "quantitative", "scale": {"domain": [20, 90], "nice": false, "zero": false}},
"y2": {"field": "y2"}
}
}
]
},
{
"data": {"name": "vent"},
"mark": {"type": "line", "interpolate": "step-after", "strokeWidth": 3.2},
"encoding": {
"x": {"field": "h", "type": "quantitative", "scale": {"domain": [0, 168], "nice": false, "zero": false}},
"y": {"field": "w", "type": "quantitative", "scale": {"domain": [0, 140], "nice": false, "zero": false},
"axis": {"orient": "right", "values": [0,10,20,30,40,50,60,70,80,90,100,110,120,130,140],
"labelColor": "#4F6228", "labelFontSize": 20, "labelPadding": 15, "tickSize": 9, "tickColor": "#868686", "tickWidth": 1.5,
"domainColor": "#868686", "domainWidth": 1.5, "grid": false,
"title": "Vitesse du vent (km/h)", "titleColor": "#4F6228", "titleFontSize": 19, "titleFontWeight": "bold",
"titleAngle": 270, "titleBaseline": "top", "titlePadding": 27}},
"color": {"datum": "Vitesse du vent", "type": "nominal"}
}
},
{
"data": {"name": "heure"},
"mark": {"type": "point", "opacity": 0},
"encoding": {
"x": {"field": "h", "type": "quantitative", "scale": {"domain": [0, 168], "nice": false, "zero": false}},
"y": {"field": "v", "type": "quantitative", "scale": {"domain": [20, 90], "nice": false, "zero": false},
"axis": {"orient": "left", "values": [21,22,23,24,26,27,28,29,31,32,33,34,36,37,38,39,41,42,43,44,46,47,48,49,51,52,53,54,56,57,58,59,61,62,63,64,66,67,68,69,71,72,73,74,76,77,78,79,81,82,83,84,86,87,88,89],
"labels": false, "domain": false, "grid": false, "title": null, "tickSize": 5, "tickColor": "#868686", "tickWidth": 1.5, "offset": 0}}
}
}
],
"resolve": {"scale": {"y": "independent"}}
}
